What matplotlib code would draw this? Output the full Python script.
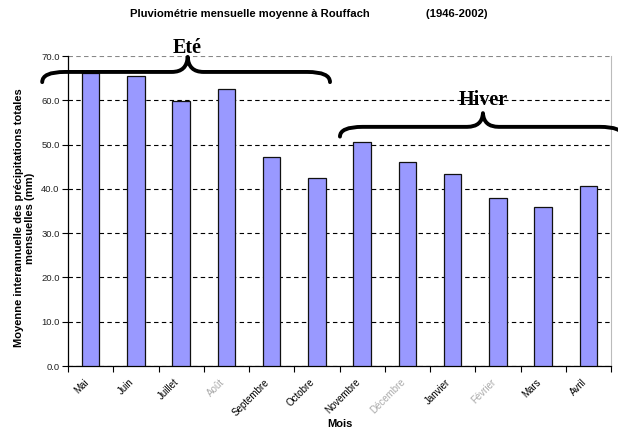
import matplotlib
matplotlib.use("Agg")
import matplotlib.pyplot as plt
from matplotlib.path import Path
from matplotlib.patches import PathPatch
import numpy as np

months = ["Mai", "Juin", "Juillet", "Août", "Septembre", "Octobre", "Novembre",
          "Décembre", "Janvier", "Février", "Mars", "Avril"]
rain = [66.2, 65.5, 59.9, 62.6, 47.1, 42.4, 50.5, 46.1, 43.3, 38.0, 36.0, 40.7]
faded = ["Août", "Décembre", "Février"]
yticks = [0, 10, 20, 30, 40, 50, 60, 70]

plt.rcParams['font.family'] = ['Liberation Sans', 'DejaVu Sans']

fig = plt.figure(figsize=(6.18, 4.34), dpi=100)
ax = fig.add_axes([68/618, 1-366/434, (611-68)/618, (366-56)/434])

x = np.arange(len(months))
ax.bar(x, rain, width=0.39, color="#9999FF", edgecolor="#111111", linewidth=0.9, zorder=3)

ax.set_xlim(-0.5, len(months) - 0.5)
ax.set_ylim(0, 70)
ax.set_yticks(yticks)
ax.set_yticklabels([f"{v:.1f}" for v in yticks], fontsize=6.8, color="#222222")
ax.yaxis.grid(True, linestyle=(0, (4, 3)), color="black", linewidth=0.8, zorder=1)
ax.get_ygridlines()[-1].set_color("#888888")

ax.set_xticks(np.arange(len(months) + 1) - 0.5)
ax.set_xticklabels([])
ax.set_xticks(x, minor=True)
ax.set_xticklabels(months, minor=True, rotation=45, ha="right", va="bottom",
                   rotation_mode="anchor", fontsize=7)
for lbl in ax.get_xticklabels(minor=True):
    if lbl.get_text() in faded:
        lbl.set_color("#aaaaaa")
ax.tick_params(axis="x", which="minor", length=0, pad=13)
ax.tick_params(axis="x", which="major", length=4, direction="out", width=0.8)
ax.tick_params(axis="y", length=4, direction="out", width=0.8, pad=2)

ax.spines["top"].set_visible(False)
ax.spines["right"].set_color("#bbbbbb")
ax.spines["left"].set_linewidth(0.9)
ax.spines["bottom"].set_linewidth(0.9)

def brace(x0, x1, xc, yend0, yend1, yh, ypk, dx_end, dx_c):
    verts = [(x0, yend0), (x0, yh), (x0 + dx_end, yh),
             (xc - dx_c, yh), (xc - dx_c * 0.05, yh), (xc, ypk),
             (xc + dx_c * 0.05, yh), (xc + dx_c, yh),
             (x1 - dx_end, yh), (x1, yh), (x1, yend1)]
    codes = [Path.MOVETO, Path.CURVE3, Path.CURVE3,
             Path.LINETO, Path.CURVE3, Path.CURVE3,
             Path.CURVE3, Path.CURVE3,
             Path.LINETO, Path.CURVE3, Path.CURVE3]
    p = PathPatch(Path(verts, codes), fill=False, lw=2.8, color="black",
                  clip_on=False, zorder=5, capstyle="round", joinstyle="round")
    ax.add_patch(p)

brace(-1.07, 5.29, 2.145, 64.1, 64.1, 66.4, 69.8, 0.5, 0.35)
brace(5.51, 11.75, 8.67, 51.8, 52.0, 54.0, 57.1, 0.5, 0.35)

ax.text(2.145, 71.7, "Eté", family=["Liberation Serif"], fontweight="bold",
        fontsize=14.5, ha="center", va="center", zorder=6)
ax.text(8.67, 60.0, "Hiver", family=["Liberation Serif"], fontweight="bold",
        fontsize=14.5, ha="center", va="center", zorder=6)

fig.text(0.5, 1 - 14/434, "Pluviométrie mensuelle moyenne à Rouffach                  (1946-2002)",
         fontsize=8.1, fontweight="bold", ha="center", va="center")
fig.text(24.5/618, 1 - 218/434,
         "Moyenne interannuelle des précipitations totales\nmensuelles (mm)",
         fontsize=8, fontweight="bold", rotation=90, ha="center", va="center",
         multialignment="center")
fig.text(339.5/618, 1 - 424/434, "Mois", fontsize=8, fontweight="bold",
         ha="center", va="center")

fig.savefig("out.png", dpi=100)
